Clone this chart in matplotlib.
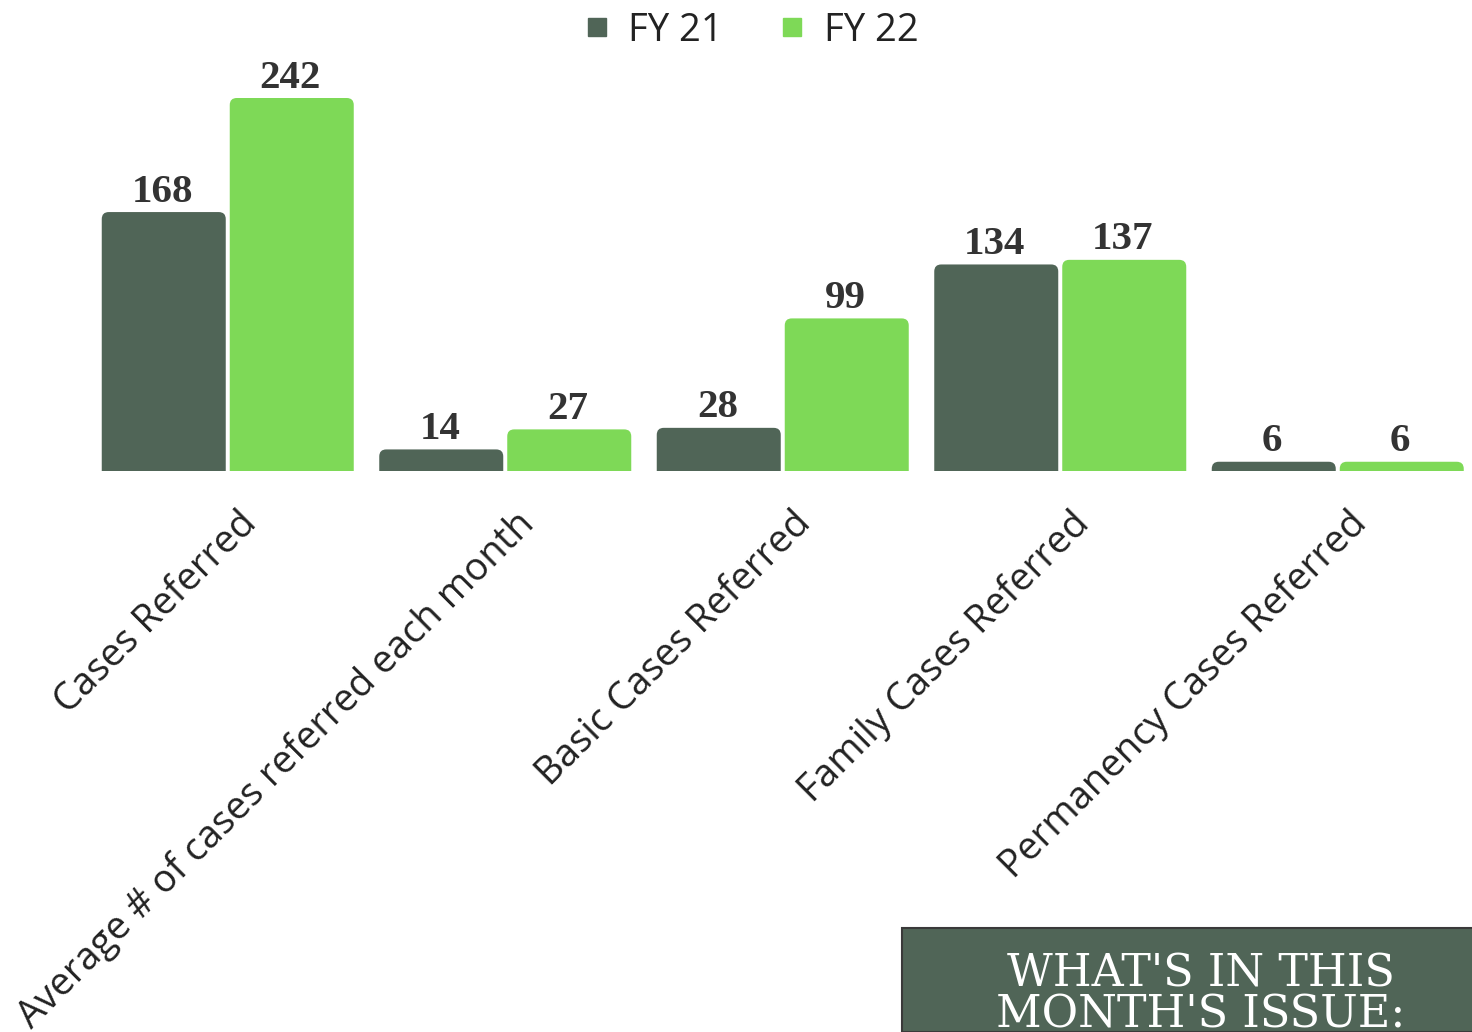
import matplotlib.pyplot as plt
import matplotlib.transforms as mtrans
from matplotlib.patches import FancyBboxPatch, Rectangle
from matplotlib.lines import Line2D

categories = ['Cases Referred', 'Average # of cases referred each month',
              'Basic Cases Referred', 'Family Cases Referred',
              'Permanency Cases Referred']
fy21 = [168, 14, 28, 134, 6]
fy22 = [242, 27, 99, 137, 6]
series_names = ['FY 21', 'FY 22']
colors = ['#506557', '#7ED957']

W, H = 1472, 1032
fig = plt.figure(figsize=(W / 100, H / 100), dpi=100)

# axes placed in pixels: baseline at y=471, group spacing ~277.5px
left_px, right_px = 89, 1472
top_px, base_px = 60, 471
ax = fig.add_axes([left_px / W, 1 - base_px / H, (right_px - left_px) / W, (base_px - top_px) / H])
px_per_x = 277.5
ax.set_xlim(-0.5, -0.5 + (right_px - left_px) / px_per_x)
ymax = 242 * (base_px - top_px) / (base_px - 98)
ax.set_ylim(0, ymax)
px_per_y = (base_px - top_px) / ymax

bar_w = 124 / px_per_x
gap = 4 / px_per_x
r = 7 / px_per_x
aspect = px_per_x / px_per_y

for i in range(len(categories)):
    for j, vals in enumerate([fy21, fy22]):
        x0 = i - gap / 2 - bar_w if j == 0 else i + gap / 2
        v = vals[i]
        p = FancyBboxPatch((x0, -20), bar_w, v + 20,
                           boxstyle=f'round,pad=0,rounding_size={r}',
                           mutation_aspect=aspect, facecolor=colors[j],
                           edgecolor='none', clip_on=True)
        ax.add_patch(p)
        ax.annotate(str(v), (x0 + bar_w / 2, v), xytext=(-1, 1),
                    textcoords='offset points', ha='center', va='bottom',
                    fontsize=29.5, fontweight='bold', family='Liberation Serif',
                    color='#333333', annotation_clip=False)

for s in ax.spines.values():
    s.set_visible(False)
ax.set_xticks([])
ax.set_yticks([])

# rotated category labels, anchored at their right end below each group
shift = mtrans.ScaledTranslation(23 / 100, -47 / 100, fig.dpi_scale_trans)
for i, cat in enumerate(categories):
    ax.text(i, 0, cat, transform=ax.get_xaxis_transform() + shift,
            rotation=45, ha='right', va='center', rotation_mode='anchor',
            fontsize=27.5, family='Open Sans', color='#222222', clip_on=False)

handles = [Line2D([], [], marker='s', linestyle='none', markersize=12.5,
                  markerfacecolor=c, markeredgecolor=c) for c in colors]
fig.legend(handles, series_names, loc='upper center', bbox_to_anchor=(0.5095, 1.022),
           ncol=2, frameon=False, handlelength=0.8, handletextpad=0.43,
           columnspacing=1.4, labelcolor='#222222',
           prop={'family': 'Open Sans', 'size': 27.5})

# box in the bottom-right corner
box = Rectangle((902 / W, 0), 1 - 902 / W + 0.01, (H - 928) / H,
                transform=fig.transFigure, facecolor='#506557',
                edgecolor='#3a3a3a', linewidth=1.5)
fig.patches.append(box)
fig.text(1201 / W, 1 - 952 / H, "WHAT'S IN THIS\nMONTH'S ISSUE:",
         ha='center', va='top', color='white', fontsize=32,
         family='DejaVu Serif', linespacing=0.95)

fig.savefig('out.png', dpi=100)
